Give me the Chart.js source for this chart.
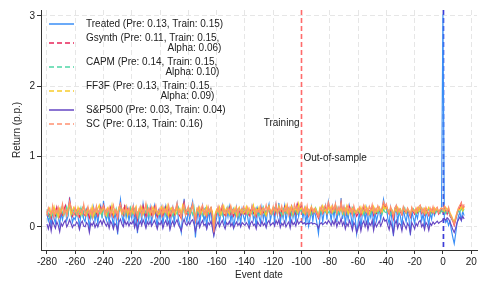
<!DOCTYPE html>
<html>
<head>
<meta charset="utf-8">
<script src="https://cdn.jsdelivr.net/npm/chart.js@4.4.1/dist/chart.umd.min.js"></script>
<style>
    html, body { margin: 0; padding: 0; background: #fff; }
    #wrap { width: 488px; height: 293px; }
</style>
</head>
<body>
<div id="wrap"><canvas id="chart" width="488" height="293"></canvas></div>
<script>
// ── Data (returns in p.p., one value per event date from -280 to 15) ─────
const firstDate = -280;

const treated = [
    .18,.08,.15,.02,.22,.12,.05,.25,.14,.03,.19,.10,.21,.28,.09,.16,.42,.20,.06,.13,
    .10,.22,.14,.00,.18,.26,.11,.07,.24,.15,-.02,.19,.12,.27,.08,.20,.04,.23,.30,.12,
    .37,.18,.09,.21,.05,.26,.14,.02,.20,.11,-.11,.24,.39,.16,.06,.31,.13,.25,.08,.22,
    .12,.28,.04,.21,-.09,.15,.25,.09,.32,.17,.03,.23,.10,.27,.06,.19,.30,.13,.01,.22,
    .11,.26,.03,.19,.29,.08,.24,.00,.17,.27,.05,.22,.33,.10,.02,-.08,.21,.40,.15,.07,
    .24,.10,.27,.36,.14,-.15,.09,.25,.04,.20,.30,.08,.17,.01,.23,.11,.28,-.02,-.12,.03,
    .13,.25,.06,.19,.30,.10,.02,.24,.14,.28,.07,.21,.00,.12,.27,.09,.20,.04,.25,.15,
    .08,.23,.13,.01,.21,.29,.10,.18,-.01,.25,.14,.06,.27,.11,.22,.03,.24,.32,.09,.19,
    .24,.07,.30,.16,.34,.04,.22,.12,.29,.08,.20,.26,.03,.31,.13,.23,.06,.33,.15,.27,
    .31,.12,.25,.05,.20,.01,.11,.27,.08,.23,.16,.04,-.10,.13,.26,.07,.21,.30,.10,.35,
    .22,.09,.28,.14,.31,.07,.25,.17,.41,.11,.26,.03,.22,.10,.29,.15,.01,.24,.12,-.10,
    .05,.23,-.03,.18,.27,.09,.25,.02,.20,.13,.29,.00,.22,.08,.17,.26,.10,.24,.39,.27,
    .30,.12,.04,.26,.09,-.13,.19,.28,.06,.22,.14,.01,.25,.15,.07,.21,.11,-.12,.23,.13,
    .05,.19,.12,.24,.28,.09,.18,.03,.22,.14,.02,.20,.11,.24,.16,.22,.25,.21,.23,.24,
    3.02,.12,.06,.10,.02,.08,-.05,-.15,-.24,-.10,.05,.15,.21,.10,.22,.16
];

const gsynth = [
    .22,.15,.18,.12,.25,.20,.16,.28,.19,.14,.22,.17,.24,.30,.18,.21,.38,.26,.15,.20,
    .17,.23,.19,.14,.21,.26,.18,.16,.24,.20,.13,.22,.19,.25,.17,.21,.15,.23,.28,.20,
    .31,.24,.18,.22,.16,.27,.20,.14,.23,.19,.12,.26,.33,.22,.17,.29,.21,.25,.18,.24,
    .20,.27,.16,.23,.10,.21,.25,.18,.30,.22,.15,.24,.19,.26,.17,.22,.28,.20,.14,.23,
    .19,.25,.16,.22,.28,.18,.24,.14,.21,.26,.17,.23,.30,.19,.15,.12,.24,.35,.22,.18,
    .24,.20,.27,.30,.22,.08,.19,.25,.16,.23,.28,.18,.21,.15,.24,.19,.26,.14,-.10,.12,
    .20,.25,.17,.22,.28,.19,.16,.24,.21,.27,.18,.23,.15,.20,.26,.19,.22,.17,.25,.21,
    .18,.24,.20,.16,.23,.27,.19,.22,.15,.25,.21,.18,.26,.20,.23,.17,.24,.29,.19,.22,
    .25,.18,.30,.22,.27,.16,.24,.20,.28,.19,.23,.26,.17,.29,.21,.24,.18,.32,.22,.26,
    .30,.21,.25,.18,.23,.15,.20,.26,.19,.24,.22,.17,.12,.21,.25,.19,.23,.28,.20,.33,
    .24,.20,.27,.22,.30,.19,.25,.23,.34,.21,.26,.18,.24,.20,.28,.22,.17,.25,.21,.15,
    .19,.24,.16,.22,.27,.20,.25,.18,.23,.21,.28,.17,.24,.19,.22,.26,.20,.25,.33,.28,
    .30,.22,.18,.26,.20,.11,.23,.27,.19,.24,.21,.17,.25,.22,.19,.23,.20,.14,.24,.21,
    .18,.23,.20,.25,.26,.19,.22,.17,.24,.21,.16,.23,.20,.25,.19,.22,.24,.18,.21,.23,
    .20,.26,.22,.18,.24,.15,.12,.08,.02,.10,.18,.23,.27,.34,.25,.30
];

const capm = [
    .25,.19,.13,.21,.17,.26,.22,.15,.24,.18,.27,.20,.16,.23,.29,.19,.31,.22,.18,.25,
    .21,.16,.24,.19,.27,.15,.22,.25,.18,.23,.20,.14,.26,.21,.17,.28,.22,.19,.24,.16,
    .26,.20,.23,.15,.25,.19,.28,.21,.17,.26,.18,.22,.27,.24,.20,.16,.25,.19,.23,.28,
    .17,.22,.26,.19,.21,.14,.27,.23,.18,.25,.20,.29,.16,.22,.24,.19,.21,.26,.18,.23,
    .24,.18,.21,.27,.16,.23,.20,.26,.19,.15,.24,.21,.18,.28,.22,.17,.20,.29,.25,.21,
    .19,.26,.22,.17,.28,.13,.23,.19,.25,.21,.16,.24,.27,.20,.18,.25,.22,.19,.01,.17,
    .23,.18,.25,.21,.16,.26,.22,.19,.28,.17,.24,.20,.26,.18,.22,.25,.15,.23,.20,.27,
    .21,.26,.17,.23,.20,.18,.25,.22,.27,.19,.16,.24,.21,.28,.18,.23,.20,.25,.22,.17,
    .20,.27,.23,.18,.25,.21,.16,.26,.22,.19,.28,.20,.24,.17,.23,.26,.21,.18,.27,.22,
    .25,.19,.22,.26,.18,.21,.24,.17,.23,.20,.27,.22,.16,.25,.19,.23,.28,.21,.24,.20,
    .22,.26,.19,.24,.21,.28,.18,.23,.25,.20,.17,.26,.22,.19,.24,.21,.27,.18,.23,.20,
    .24,.19,.22,.26,.17,.23,.20,.25,.21,.18,.24,.27,.20,.22,.19,.26,.23,.18,.25,.21,
    .20,.25,.22,.17,.24,.19,.21,.26,.23,.18,.25,.20,.22,.27,.19,.24,.21,.17,.23,.26,
    .22,.18,.25,.21,.23,.27,.20,.24,.19,.22,.26,.18,.23,.21,.25,.20,.24,.22,.19,.23,
    .21,.25,.19,.23,.20,.17,.13,.09,.06,.12,.18,.23,.21,.26,.22,.25
];

const ff3f = [
    .18,.24,.27,.16,.22,.29,.19,.23,.14,.26,.21,.30,.18,.24,.20,.27,.32,.17,.23,.28,
    .24,.19,.28,.22,.17,.25,.30,.20,.16,.27,.23,.18,.29,.15,.24,.21,.26,.31,.19,.23,
    .28,.22,.16,.27,.24,.19,.31,.17,.25,.22,.20,.28,.24,.18,.26,.21,.29,.16,.25,.20,
    .26,.19,.23,.29,.15,.25,.21,.28,.18,.24,.31,.20,.26,.17,.23,.28,.19,.25,.22,.17,
    .22,.28,.19,.25,.21,.30,.16,.24,.27,.20,.23,.18,.29,.22,.26,.19,.31,.24,.17,.25,
    .27,.20,.24,.31,.18,.14,.26,.22,.28,.19,.25,.21,.17,.29,.23,.20,.27,.22,.04,.19,
    .25,.21,.28,.17,.24,.30,.19,.26,.22,.18,.29,.23,.20,.27,.16,.24,.28,.21,.25,.19,
    .23,.29,.20,.26,.18,.24,.31,.17,.25,.22,.28,.19,.24,.27,.21,.16,.26,.30,.20,.24,
    .28,.22,.25,.19,.30,.23,.27,.18,.24,.31,.20,.26,.22,.29,.17,.25,.28,.21,.33,.24,
    .27,.23,.19,.28,.22,.25,.18,.29,.24,.21,.26,.20,.17,.27,.23,.30,.22,.25,.19,.28,
    .24,.29,.21,.26,.32,.20,.25,.22,.28,.19,.27,.23,.30,.18,.25,.21,.26,.24,.20,.23,
    .26,.21,.28,.19,.24,.30,.22,.27,.18,.25,.23,.29,.20,.26,.22,.28,.24,.21,.30,.25,
    .29,.23,.20,.27,.24,.17,.26,.22,.28,.21,.25,.19,.27,.24,.20,.26,.23,.18,.27,.22,
    .24,.20,.27,.22,.29,.25,.21,.26,.19,.24,.28,.22,.25,.20,.27,.23,.26,.21,.24,.27,
    .25,.22,.28,.24,.27,.20,.16,.11,.07,.14,.21,.26,.24,.29,.23,.28
];

const sp500 = [
    .04,-.03,.06,-.06,.08,.03,-.02,.07,.02,-.07,.05,.01,.06,.09,.00,.04,.10,.05,-.01,.03,
    .02,.07,.04,-.04,.05,.08,.01,.00,.06,.03,-.08,.05,.02,.07,-.01,.04,.00,.06,.09,.03,
    .10,.05,.01,.06,-.02,.08,.04,-.03,.05,.02,-.06,.07,.11,.04,.00,.09,.03,.07,.01,.06,
    .04,.09,-.01,.06,-.05,.03,.08,.02,.10,.05,-.02,.07,.03,.08,.01,.05,.09,.04,-.03,.06,
    .03,.08,-.02,.05,.09,.02,.07,-.04,.04,.08,.01,.06,.10,.03,-.01,-.06,.05,.11,.04,.02,
    .07,.03,.08,.10,.04,-.07,.02,.07,-.01,.05,.09,.02,.04,-.03,.06,.03,.08,.00,-.12,-.02,
    .03,.07,.00,.05,.09,.02,-.03,.06,.03,.08,.01,.05,-.02,.03,.07,.02,.05,.00,.06,.04,
    .02,.06,.03,-.02,.05,.08,.02,.04,-.03,.07,.03,.01,.08,.02,.05,-.01,.06,.09,.02,.04,
    .06,.01,.09,.04,.10,-.01,.05,.02,.08,.00,.04,.07,-.02,.09,.03,.06,.01,.10,.04,.07,
    .08,.04,.06,.03,.05,.04,.05,.06,.04,.05,.04,.03,-.02,.04,.06,.03,.05,.07,.04,.09,
    .06,.02,.08,.03,.10,.00,.07,.04,.12,.02,.07,-.03,.05,.01,.09,.03,-.05,.06,.02,-.08,
    -.02,.06,-.06,.04,.08,.00,.07,-.04,.05,.02,.09,-.05,.06,.00,.04,.08,.01,.06,.13,.08,
    .10,.02,-.04,.07,.00,-.10,.04,.09,-.02,.05,.03,-.06,.07,.02,-.03,.05,.01,-.09,.06,.02,
    -.03,.05,.01,.07,.09,.00,.04,-.04,.06,.03,-.05,.05,.02,.07,.04,.06,.08,.05,.07,.08,
    .10,.12,.09,.13,.11,.07,.02,-.04,-.08,-.02,.06,.10,.14,.09,.15,.11
];

const sc = [
    .16,.27,.21,.18,.30,.14,.25,.20,.28,.17,.23,.33,.19,.26,.15,.24,.36,.29,.21,.17,
    .28,.20,.15,.26,.23,.19,.32,.17,.22,.29,.18,.25,.14,.27,.21,.30,.18,.24,.20,.26,
    .30,.17,.25,.21,.28,.16,.23,.31,.19,.24,.13,.28,.33,.20,.26,.18,.29,.22,.27,.16,
    .24,.30,.19,.27,.14,.22,.29,.16,.25,.21,.33,.18,.26,.20,.28,.15,.24,.31,.19,.22,
    .27,.16,.29,.21,.25,.18,.31,.22,.17,.28,.20,.26,.34,.19,.23,.12,.27,.32,.18,.24,
    .29,.17,.23,.33,.20,.09,.24,.28,.18,.26,.31,.19,.25,.16,.29,.22,.27,.15,-.08,.16,
    .21,.29,.18,.26,.31,.20,.24,.17,.27,.22,.30,.18,.25,.21,.28,.16,.26,.22,.19,.29,
    .25,.19,.28,.22,.16,.30,.23,.27,.18,.24,.21,.29,.17,.26,.23,.31,.20,.28,.24,.18,
    .29,.21,.33,.18,.27,.23,.30,.19,.26,.22,.31,.17,.28,.24,.20,.32,.25,.29,.21,.30,
    .34,.22,.27,.19,.30,.17,.25,.28,.21,.26,.23,.19,.14,.24,.29,.20,.27,.31,.22,.35,
    .27,.21,.30,.24,.33,.19,.28,.23,.36,.22,.29,.18,.26,.31,.21,.27,.17,.30,.23,.19,
    .23,.28,.19,.26,.31,.22,.27,.18,.29,.24,.32,.20,.26,.22,.30,.25,.21,.28,.36,.30,
    .33,.24,.19,.29,.22,.14,.27,.31,.20,.26,.23,.18,.29,.24,.21,.27,.22,.16,.28,.23,
    .20,.27,.22,.29,.31,.21,.26,.19,.28,.23,.18,.27,.22,.29,.21,.26,.28,.20,.25,.27,
    .24,.30,.25,.21,.28,.18,.14,.09,.03,.12,.20,.27,.31,.34,.27,.32
];

const xTicks = [-280, -260, -240, -220, -200, -180, -160, -140, -120, -100, -80, -60, -40, -20, 0, 20];
const yTicks = [0, 1, 2, 3];

const legendLabels = [
    ['Treated (Pre: 0.13, Train: 0.15)'],
    ['Gsynth (Pre: 0.11, Train: 0.15,', 'Alpha: 0.06)'],
    ['CAPM (Pre: 0.14, Train: 0.15,', 'Alpha: 0.10)'],
    ['FF3F (Pre: 0.13, Train: 0.15,', 'Alpha: 0.09)'],
    ['S&P500 (Pre: 0.03, Train: 0.04)'],
    ['SC (Pre: 0.13, Train: 0.16)']
];

const trainEnd = -100;   // end of training window
const eventDay = 0;

// ── Styling ───────────────────────────────────────────────────────────────
const FONT = '"Liberation Sans", Arial, Helvetica, sans-serif';
const series = [
    { data: treated, color: '#3a8ef6', dash: [] },
    { data: gsynth,  color: '#e8245a', dash: [5, 3] },
    { data: capm,    color: '#4fd6a6', dash: [5, 3] },
    { data: ff3f,    color: '#f7cc2a', dash: [5, 3] },
    { data: sp500,   color: '#6546c3', dash: [] },
    { data: sc,      color: '#ff9070', dash: [5, 3] }
];

const eventDates = treated.map((_, i) => firstDate + i);

const datasets = series.map((s, k) => ({
    data: s.data.map((v, i) => ({ x: eventDates[i], y: v })),
    borderColor: s.color,
    borderWidth: 1.15,
    pointRadius: 0,
    tension: 0,
    order: series.length - 1 - k   // later series drawn on top
}));

// reference lines + annotations, drawn under the series
const refLines = {
    id: 'refLines',
    beforeDatasetsDraw(chart) {
        const { ctx, chartArea: a, scales: { x, y } } = chart;
        ctx.save();
        ctx.lineWidth = 1.6;
        ctx.setLineDash([5, 3]);
        ctx.strokeStyle = '#ff6b6b';
        const xt = Math.round(x.getPixelForValue(trainEnd)) + 0.5;
        ctx.beginPath(); ctx.moveTo(xt, a.top); ctx.lineTo(xt, a.bottom); ctx.stroke();
        ctx.strokeStyle = '#3c3cdc';
        const xe = Math.round(x.getPixelForValue(eventDay)) + 0.5;
        ctx.beginPath(); ctx.moveTo(xe, a.top); ctx.lineTo(xe, a.bottom); ctx.stroke();
        ctx.setLineDash([]);
        ctx.fillStyle = '#222';
        ctx.font = '10px ' + FONT;
        ctx.textBaseline = 'middle';
        ctx.textAlign = 'right';
        ctx.fillText('Training', xt - 2, y.getPixelForValue(1.47));
        ctx.textAlign = 'left';
        ctx.fillText('Out-of-sample', xt + 2, y.getPixelForValue(0.98));
        ctx.restore();
    }
};

// legend inside the plot, top left
const innerLegend = {
    id: 'innerLegend',
    afterDraw(chart) {
        const { ctx } = chart;
        ctx.save();
        ctx.font = '10px ' + FONT;
        ctx.textBaseline = 'middle';
        ctx.fillStyle = '#222';
        let y = 24;
        legendLabels.forEach((lines, k) => {
            const s = series[k];
            const lineY = y + (lines.length - 1) * 5;
            ctx.strokeStyle = s.color;
            ctx.lineWidth = 1.5;
            ctx.setLineDash(s.dash);
            ctx.beginPath(); ctx.moveTo(49, lineY); ctx.lineTo(74, lineY); ctx.stroke();
            ctx.setLineDash([]);
            ctx.textAlign = 'left';
            ctx.fillText(lines[0], 86, y);
            if (lines[1]) {
                const w = ctx.measureText(lines[0]).width;
                ctx.textAlign = 'right';
                ctx.fillText(lines[1], 86 + w + 2, y + 10);
            }
            y += lines.length * 10 + 4;
        });
        ctx.restore();
    }
};

new Chart(document.getElementById('chart'), {
    type: 'line',
    data: { datasets },
    options: {
        responsive: false,
        animation: false,
        layout: { padding: { top: 10, right: 11, left: 0, bottom: 0 } },
        plugins: { legend: { display: false }, tooltip: { enabled: false } },
        scales: {
            x: {
                type: 'linear',
                min: -284.2,
                max: 24.1,
                afterBuildTicks: s => { s.ticks = xTicks.map(v => ({ value: v })); },
                afterFit: s => { s.height = 43; },
                ticks: { color: '#222', font: { family: FONT, size: 10 }, padding: 2, maxRotation: 0, autoSkip: false },
                grid: { color: '#e6e6e6', tickColor: '#333', tickLength: 4, tickBorderDash: [] },
                border: { color: '#333', width: 1, dash: [5, 3] },
                title: { display: true, text: 'Event date', color: '#222', font: { family: FONT, size: 10 }, padding: { top: 0, bottom: 12 } }
            },
            y: {
                min: -0.33,
                max: 3.085,
                afterBuildTicks: s => { s.ticks = yTicks.map(v => ({ value: v })); },
                afterFit: s => { s.width = 41; },
                ticks: { color: '#222', font: { family: FONT, size: 10 }, padding: 2 },
                grid: { color: '#e6e6e6', tickColor: '#333', tickLength: 4, tickBorderDash: [] },
                border: { color: '#333', width: 1, dash: [5, 3] },
                title: { display: true, text: 'Return (p.p.)', color: '#222', font: { family: FONT, size: 10 }, padding: { top: 11, bottom: 0 } }
            }
        }
    },
    plugins: [refLines, innerLegend]
});
</script>
</body>
</html>
